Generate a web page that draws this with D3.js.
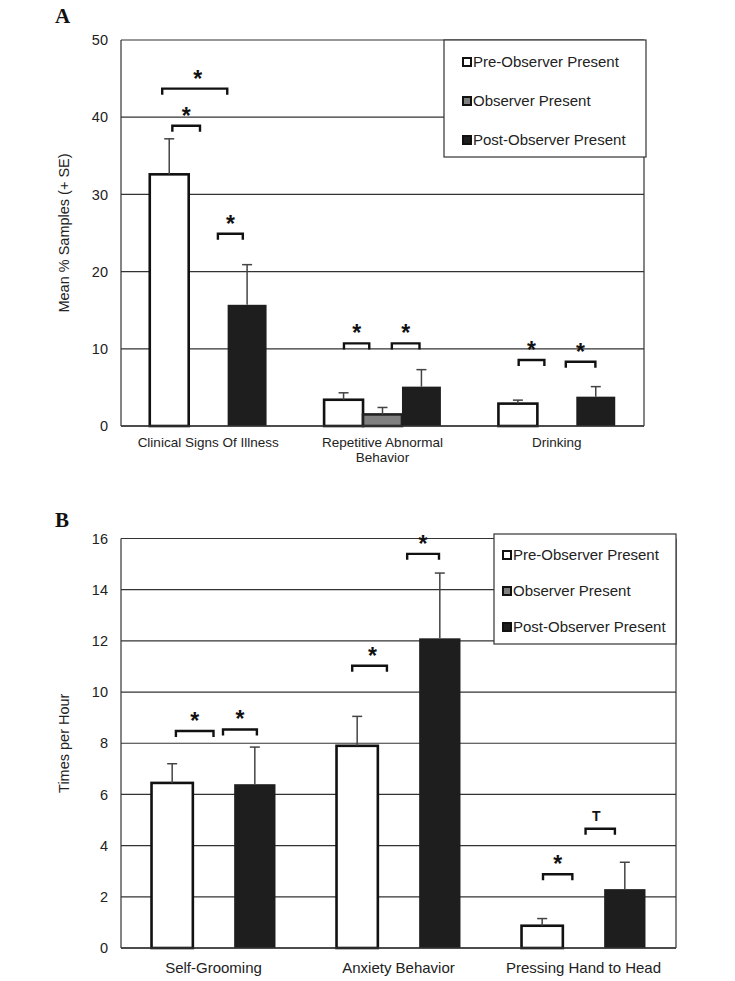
<!DOCTYPE html>
<html>
<head>
<meta charset="utf-8">
<script src="https://cdn.jsdelivr.net/npm/d3@7"></script>
<style>
  body { margin: 0; background: #fff; }
  svg { display: block; font-family: "Liberation Sans", Arial, sans-serif; }
</style>
</head>
<body>
<svg id="chart" width="735" height="981"></svg>
<script>
// series names (legend)
const seriesNames = ["Pre-Observer Present", "Observer Present", "Post-Observer Present"];

// panel A: mean % samples
const catsA   = ["Clinical Signs Of Illness", "Repetitive Abnormal\nBehavior", "Drinking"];
const preA    = [32.6, 3.4, 2.9];
const sePreA  = [4.6, 0.9, 0.45];
const obsA    = [null, 1.5, null];
const seObsA  = [null, 0.9, null];
const postA   = [15.7, 5.1, 3.8];
const sePostA = [5.2, 2.2, 1.3];
const ticksA  = [0, 10, 20, 30, 40, 50];
// [category, from slot, to slot, height, mark]
const sigA = [
  [0, -0.18, 1.49, 43.7, "*"], [0, 0.08, 0.79, 38.9, "*"], [0, 1.25, 1.89, 24.9, "*"],
  [1, 0.01, 0.66, 10.7, "*"], [1, 1.24, 1.95, 10.7, "*"],
  [2, 0.02, 0.68, 8.55, "*"], [2, 1.23, 1.99, 8.33, "*"]
];

// panel B: times per hour
const catsB   = ["Self-Grooming", "Anxiety Behavior", "Pressing Hand to Head"];
const preB    = [6.45, 7.9, 0.87];
const sePreB  = [0.75, 1.15, 0.28];
const obsB    = [null, null, null];
const seObsB  = [null, null, null];
const postB   = [6.4, 12.1, 2.3];
const sePostB = [1.45, 2.55, 1.05];
const ticksB  = [0, 2, 4, 6, 8, 10, 12, 14, 16];
const sigB = [
  [0, 0.09, 1.0, 8.48, "*"], [0, 1.23, 2.05, 8.54, "*"],
  [1, -0.12, 0.72, 11.03, "*"], [1, 1.21, 1.98, 15.4, "*"],
  [2, 0.02, 0.73, 2.88, "*"], [2, 1.05, 1.76, 4.66, "T"]
];

const fills   = ["#ffffff", "#808080", "#1e1e1e"];
const strokes = ["#111", "#222", "#1e1e1e"];

const svg = d3.select("#chart");

function drawPanel(p) {
  const g = svg.append("g");
  const x0 = d3.scaleBand().domain(p.cats.map((_, i) => i))
    .range([p.left, p.right]).paddingInner(0.33).paddingOuter(0.165);
  const x1 = d3.scaleBand().domain([0, 1, 2]).range([0, x0.bandwidth()]);
  const y  = d3.scaleLinear().domain([0, p.max]).range([p.bottom, p.top]);

  // grid + frame
  g.selectAll(".grid").data(p.ticks).join("line")
    .attr("x1", p.left).attr("x2", p.right)
    .attr("y1", d => y(d)).attr("y2", d => y(d))
    .attr("stroke", "#333").attr("stroke-width", 1.2);
  g.append("line").attr("x1", p.left).attr("x2", p.left)
    .attr("y1", p.top).attr("y2", p.bottom).attr("stroke", "#333").attr("stroke-width", 1.2);
  g.append("line").attr("x1", p.right).attr("x2", p.right)
    .attr("y1", p.top).attr("y2", p.bottom).attr("stroke", "#333").attr("stroke-width", 1.2);

  // y tick labels
  const yAxis = d3.axisLeft(y).tickValues(p.ticks).tickSize(0).tickPadding(13);
  const ax = g.append("g").attr("transform", `translate(${p.left},0)`).call(yAxis);
  ax.select(".domain").remove();
  ax.selectAll("text").attr("font-size", 14.5).attr("fill", "#222")
    .attr("font-family", "'Liberation Sans', Arial, sans-serif");

  // y title
  g.append("text")
    .attr("transform", `translate(${p.titleX},${(p.top + p.bottom) / 2}) rotate(-90)`)
    .attr("text-anchor", "middle").attr("font-size", 14.5).attr("fill", "#222")
    .text(p.yTitle);

  // bars
  const rows = [];
  p.series.forEach((vals, s) => vals.forEach((v, c) => {
    if (v !== null) rows.push({ s, c, v, se: p.se[s][c] });
  }));
  const bw = x1.bandwidth();
  g.selectAll(".bar").data(rows).join("rect")
    .attr("x", d => x0(d.c) + x1(d.s))
    .attr("y", d => y(d.v))
    .attr("width", bw)
    .attr("height", d => p.bottom - y(d.v))
    .attr("fill", d => fills[d.s])
    .attr("stroke", d => strokes[d.s])
    .attr("stroke-width", d => d.s === 2 ? 0 : 2.6);

  // error bars
  const eb = g.selectAll(".err").data(rows).join("g").attr("stroke", "#444").attr("stroke-width", 1.5);
  eb.append("line")
    .attr("x1", d => x0(d.c) + x1(d.s) + bw / 2).attr("x2", d => x0(d.c) + x1(d.s) + bw / 2)
    .attr("y1", d => y(d.v)).attr("y2", d => y(d.v + d.se));
  eb.append("line")
    .attr("x1", d => x0(d.c) + x1(d.s) + bw / 2 - 5).attr("x2", d => x0(d.c) + x1(d.s) + bw / 2 + 5)
    .attr("y1", d => y(d.v + d.se)).attr("y2", d => y(d.v + d.se));

  // baseline
  g.append("line").attr("x1", p.left).attr("x2", p.right)
    .attr("y1", p.bottom).attr("y2", p.bottom).attr("stroke", "#333").attr("stroke-width", 1.5);

  // significance brackets
  const slotX = (c, k) => x0(c) + bw * (k + 0.5);
  p.sig.forEach(([c, a, b, h, mark]) => {
    const xa = slotX(c, a), xb = slotX(c, b), yy = y(h);
    g.append("path")
      .attr("d", `M${xa},${yy + 6}V${yy}H${xb}V${yy + 6}`)
      .attr("fill", "none").attr("stroke", "#111").attr("stroke-width", 2.4);
    if (mark === "T") {
      g.append("text").attr("x", (xa + xb) / 2 - 4).attr("y", yy - 8)
        .attr("text-anchor", "middle").attr("font-size", 14).attr("font-weight", "bold")
        .attr("fill", "#111").text("T");
    } else {
      g.append("text").attr("x", (xa + xb) / 2 + (a < 0 ? 3 : 0)).attr("y", yy - 2)
        .attr("text-anchor", "middle").attr("font-size", 23).attr("font-weight", "bold")
        .attr("fill", "#111").text("*");
    }
  });

  // category labels
  p.cats.forEach((name, i) => {
    const t = g.append("text").attr("x", x0(i) + x0.bandwidth() / 2).attr("y", p.bottom + p.catDy)
      .attr("text-anchor", "middle").attr("font-size", p.catFont).attr("fill", "#222");
    name.split("\n").forEach((line, j) => {
      t.append("tspan").attr("x", x0(i) + x0.bandwidth() / 2).attr("dy", j === 0 ? 0 : 15).text(line);
    });
  });

  // legend
  const L = p.legend;
  g.append("rect").attr("x", L.x).attr("y", L.y).attr("width", L.w).attr("height", L.h)
    .attr("fill", "#fff").attr("stroke", "#333").attr("stroke-width", 1.2);
  seriesNames.forEach((n, i) => {
    const cy = L.y + L.first + i * L.gap;
    g.append("rect").attr("x", L.x + L.sq).attr("y", cy - 4).attr("width", 8).attr("height", 8)
      .attr("fill", fills[i]).attr("stroke", "#111").attr("stroke-width", 2);
    g.append("text").attr("x", L.x + L.sq + 10).attr("y", cy + 5)
      .attr("font-size", 15).attr("fill", "#222").text(n);
  });

  // panel letter
  g.append("text").attr("x", 55).attr("y", p.letterY)
    .attr("font-family", "'Liberation Serif', 'DejaVu Serif', serif")
    .attr("font-weight", "bold").attr("font-size", 21).attr("fill", "#111").text(p.letter);
}

drawPanel({
  letter: "A", letterY: 23,
  cats: catsA, series: [preA, obsA, postA], se: [sePreA, seObsA, sePostA],
  ticks: ticksA, max: 50, sig: sigA, yTitle: "Mean % Samples (+ SE)", titleX: 69,
  left: 121, right: 644, top: 40, bottom: 426, catFont: 13.5, catDy: 21,
  legend: { x: 444, y: 40, w: 202, h: 117, first: 22, gap: 39, sq: 19 }
});

drawPanel({
  letter: "B", letterY: 527,
  cats: catsB, series: [preB, obsB, postB], se: [sePreB, seObsB, sePostB],
  ticks: ticksB, max: 16, sig: sigB, yTitle: "Times per Hour", titleX: 69,
  left: 121, right: 676, top: 538.5, bottom: 948, catFont: 15, catDy: 25,
  legend: { x: 494, y: 534, w: 182, h: 110, first: 21, gap: 36, sq: 9 }
});
</script>
</body>
</html>
